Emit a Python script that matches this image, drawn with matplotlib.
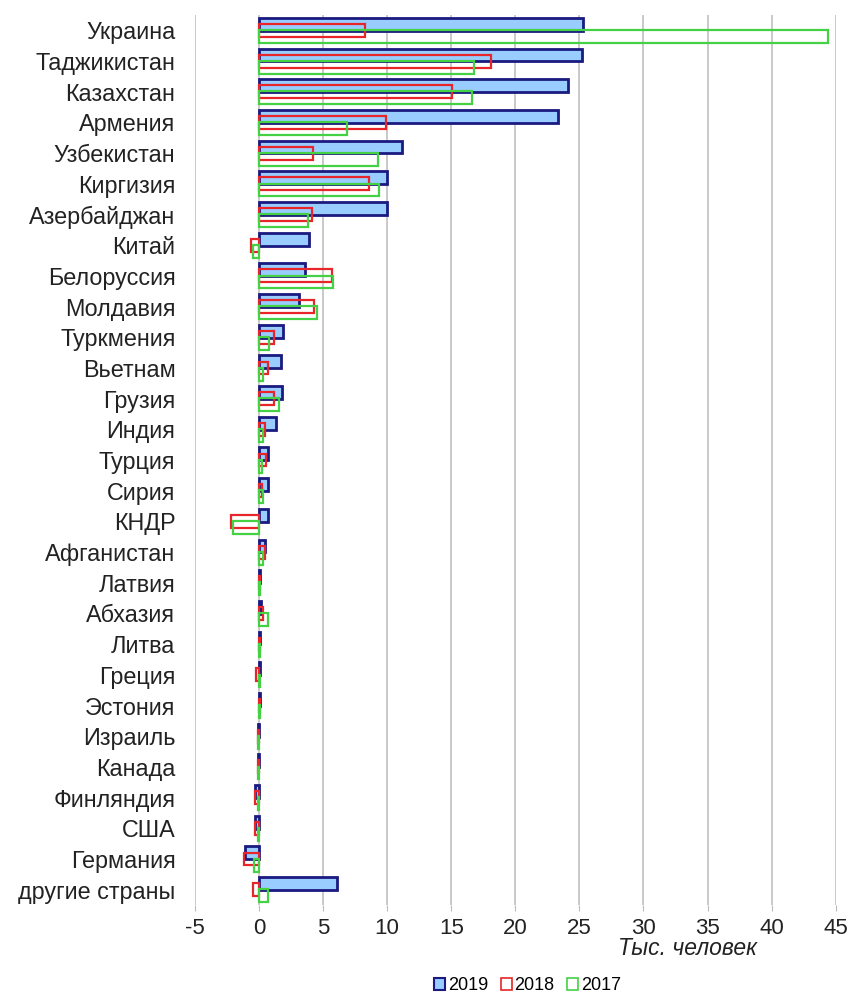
import numpy as np
import matplotlib.pyplot as plt
from matplotlib.patches import Patch

plt.rcParams['font.family'] = ['Liberation Sans', 'DejaVu Sans']
plt.rcParams['axes.unicode_minus'] = False

countries = ['Украина', 'Таджикистан', 'Казахстан', 'Армения', 'Узбекистан',
             'Киргизия', 'Азербайджан', 'Китай', 'Белоруссия', 'Молдавия',
             'Туркмения', 'Вьетнам', 'Грузия', 'Индия', 'Турция', 'Сирия',
             'КНДР', 'Афганистан', 'Латвия', 'Абхазия', 'Литва', 'Греция',
             'Эстония', 'Израиль', 'Канада', 'Финляндия', 'США', 'Германия',
             'другие страны']

v2019 = [25.3, 25.2, 24.1, 23.3, 11.2, 10.0, 10.0, 3.9, 3.6, 3.1,
         1.9, 1.75, 1.8, 1.3, 0.7, 0.7, 0.7, 0.5, 0.1, 0.15, 0.1, 0.1,
         0.1, -0.1, -0.1, -0.3, -0.3, -1.1, 6.1]
v2018 = [8.3, 18.1, 15.1, 9.9, 4.2, 8.6, 4.1, -0.6, 5.7, 4.3,
         1.15, 0.7, 1.15, 0.5, 0.55, 0.25, -2.2, 0.45, 0.1, 0.3, 0.1, -0.2,
         0.1, -0.1, -0.1, -0.3, -0.3, -1.15, -0.5]
v2017 = [44.4, 16.8, 16.6, 6.9, 9.25, 9.4, 3.8, -0.5, 5.8, 4.5,
         0.8, 0.35, 1.6, 0.35, 0.2, 0.35, -2.05, 0.35, 0.1, 0.7, 0.1, 0.1,
         0.1, -0.05, -0.05, -0.1, -0.1, -0.35, 0.7]

years = ['2019', '2018', '2017']

fig = plt.figure(figsize=(8.51, 10.05), dpi=100)
ax = fig.add_axes([0.229, 0.0995, 0.753, 0.8855])

y = np.arange(len(countries))
h = 0.42
ax.barh(y - 0.2, v2019, height=h, color='#99ccff', edgecolor='#1a1a80', linewidth=2, zorder=3)
ax.barh(y, v2018, height=h, color='none', edgecolor='#e8262a', linewidth=1.6, zorder=4)
ax.barh(y + 0.2, v2017, height=h, color='none', edgecolor='#44d144', linewidth=1.6, zorder=5)

ax.set_ylim(len(countries) - 0.5, -0.5)
ax.set_xlim(-5, 45)
ax.set_xticks(np.arange(-5, 46, 5))
ax.set_yticks(y)
ax.set_yticklabels(countries, fontsize=16.8, color='#222222')
ax.tick_params(axis='y', length=0, pad=14)
ax.tick_params(axis='x', length=4, color='#bbbbbb', labelsize=16, pad=5,
               labelcolor='#222222')
ax.grid(axis='x', color='#c0c0c0', linewidth=1.2, zorder=0)
for s in ax.spines.values():
    s.set_visible(False)

ax.text(0.877, -0.036, 'Тыс. человек', transform=ax.transAxes, ha='right',
        va='top', fontsize=16.5, style='italic', color='#222222')

handles = [Patch(facecolor='#99ccff', edgecolor='#1a1a80', linewidth=1.5),
           Patch(facecolor='white', edgecolor='#e8262a', linewidth=1.2),
           Patch(facecolor='white', edgecolor='#44d144', linewidth=1.2)]
fig.legend(handles, years, loc='center', bbox_to_anchor=(0.62, 0.019), ncol=3,
           frameon=False, fontsize=13, handlelength=0.6, handleheight=0.6,
           handletextpad=0.15, columnspacing=0.7)

fig.savefig('out.png', dpi=100)
